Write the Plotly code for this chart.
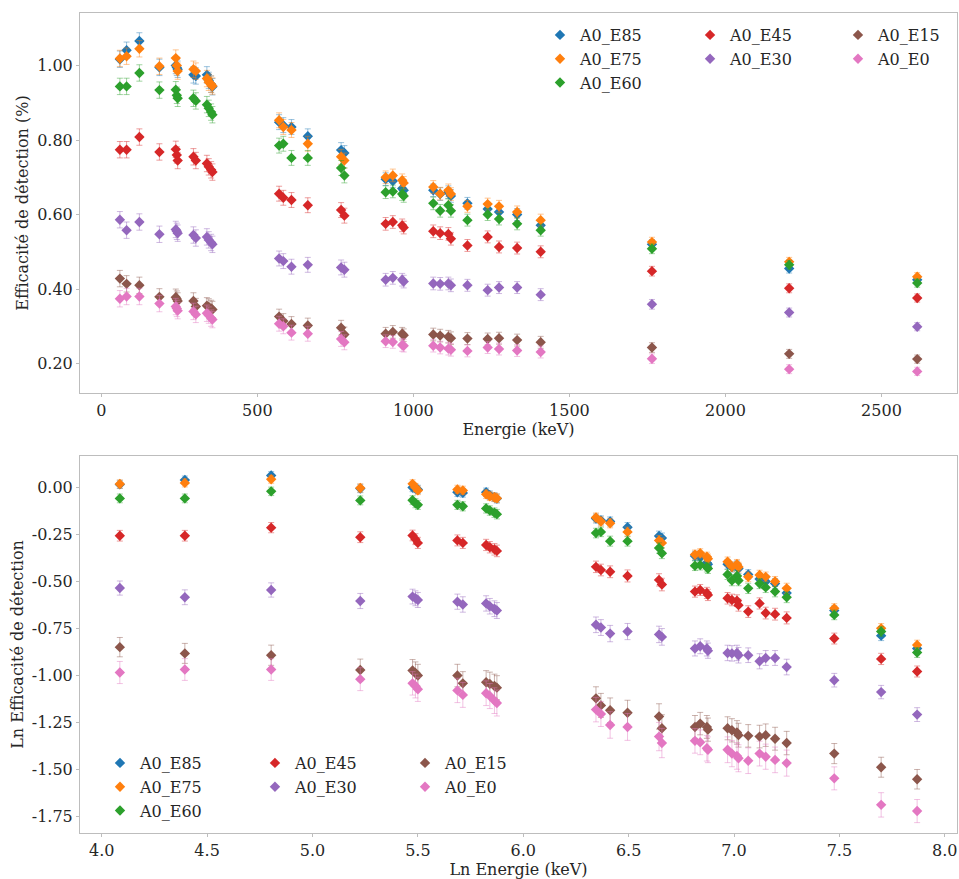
import numpy as np
import plotly.graph_objects as go

energies = [59.5, 81.0, 122.0, 186.2, 238.6, 241.9, 244.7, 295.2, 302.9, 338.3, 344.3, 351.9, 356.0,
            569.7, 583.2, 609.3, 661.7, 768.4, 778.9, 911.2, 934.1, 964.1, 969.0,
            1063.7, 1085.8, 1112.1, 1120.3, 1173.2, 1238.1, 1274.5, 1332.5, 1408.0,
            1764.5, 2204.2, 2614.5]

A0_E85 = [1.017, 1.041, 1.066, 0.995, 1.000, 0.995, 0.990, 0.975, 0.972, 0.975, 0.960, 0.950, 0.943,
          0.848, 0.840, 0.835, 0.810, 0.773, 0.765, 0.695, 0.690, 0.670, 0.665,
          0.665, 0.655, 0.660, 0.650, 0.630, 0.615, 0.607, 0.600, 0.571,
          0.520, 0.455, 0.425]
A0_E75 = [1.019, 1.025, 1.045, 0.998, 1.020, 1.000, 0.985, 0.990, 0.985, 0.965, 0.955, 0.950, 0.945,
          0.853, 0.835, 0.827, 0.790, 0.755, 0.745, 0.700, 0.705, 0.692, 0.685,
          0.674, 0.656, 0.665, 0.655, 0.622, 0.628, 0.622, 0.607, 0.585,
          0.526, 0.473, 0.433]
A0_E60 = [0.944, 0.944, 0.980, 0.934, 0.935, 0.920, 0.912, 0.912, 0.905, 0.895, 0.885, 0.875, 0.868,
          0.785, 0.790, 0.752, 0.752, 0.725, 0.705, 0.660, 0.662, 0.655, 0.650,
          0.630, 0.610, 0.625, 0.610, 0.585, 0.600, 0.588, 0.575, 0.558,
          0.508, 0.465, 0.416]
A0_E45 = [0.774, 0.774, 0.808, 0.768, 0.775, 0.760, 0.745, 0.755, 0.745, 0.737, 0.728, 0.720, 0.714,
          0.656, 0.645, 0.639, 0.625, 0.612, 0.597, 0.575, 0.580, 0.571, 0.565,
          0.555, 0.550, 0.548, 0.535, 0.517, 0.540, 0.513, 0.510, 0.500,
          0.448, 0.402, 0.376]
A0_E30 = [0.586, 0.558, 0.580, 0.547, 0.560, 0.555, 0.550, 0.545, 0.537, 0.540, 0.532, 0.525, 0.520,
          0.482, 0.475, 0.460, 0.465, 0.458, 0.452, 0.425, 0.430, 0.425, 0.420,
          0.415, 0.414, 0.415, 0.410, 0.410, 0.397, 0.404, 0.404, 0.385,
          0.359, 0.337, 0.299]
A0_E15 = [0.428, 0.414, 0.410, 0.379, 0.378, 0.373, 0.368, 0.368, 0.353, 0.355, 0.352, 0.348, 0.345,
          0.326, 0.314, 0.306, 0.302, 0.296, 0.278, 0.280, 0.285, 0.280, 0.276,
          0.278, 0.275, 0.272, 0.268, 0.267, 0.266, 0.268, 0.263, 0.257,
          0.243, 0.226, 0.212]
A0_E0 = [0.374, 0.380, 0.380, 0.361, 0.353, 0.348, 0.342, 0.340, 0.332, 0.335, 0.330, 0.322, 0.318,
         0.307, 0.300, 0.283, 0.280, 0.266, 0.257, 0.260, 0.258, 0.250, 0.248,
         0.248, 0.243, 0.240, 0.237, 0.234, 0.243, 0.239, 0.235, 0.231,
         0.213, 0.185, 0.179]

# absolute uncertainty (%) per energy line
uncert = [0.022] * 13 + [0.020] * 6 + [0.017] * 8 + [0.016] * 5 + [0.013, 0.012, 0.011]

series_names = ["A0_E85", "A0_E75", "A0_E60", "A0_E45", "A0_E30", "A0_E15", "A0_E0"]
series_values = [A0_E85, A0_E75, A0_E60, A0_E45, A0_E30, A0_E15, A0_E0]
colors = ["#1f77b4", "#ff7f0e", "#2ca02c", "#d62728", "#9467bd", "#8c564b", "#e377c2"]
legend_cols = ["legend", "legend", "legend", "legend2", "legend2", "legend3", "legend3"]
legend_cols_b = ["legend4", "legend4", "legend4", "legend5", "legend5", "legend6", "legend6"]

top_yticks = [0.2, 0.4, 0.6, 0.8, 1.0]
top_yticklabels = ["0.20", "0.40", "0.60", "0.80", "1.00"]
top_xticks = [0, 500, 1000, 1500, 2000, 2500]
bot_yticks = [0.0, -0.25, -0.5, -0.75, -1.0, -1.25, -1.5, -1.75]
bot_yticklabels = ["0.00", "-0.25", "-0.50", "-0.75", "-1.00", "-1.25", "-1.50", "-1.75"]
bot_xticks = [4.0, 4.5, 5.0, 5.5, 6.0, 6.5, 7.0, 7.5, 8.0]
bot_xticklabels = ["4.0", "4.5", "5.0", "5.5", "6.0", "6.5", "7.0", "7.5", "8.0"]

FONT = "DejaVu Serif"
TXT = "#262626"

def rgba(hexc, a):
    h = hexc.lstrip("#")
    return "rgba(%d,%d,%d,%.2f)" % (int(h[0:2], 16), int(h[2:4], 16), int(h[4:6], 16), a)

fig = go.Figure()
E = np.array(energies)
U = np.array(uncert)
for name, vals, col, lg, lgb in zip(series_names, series_values, colors, legend_cols, legend_cols_b):
    v = np.array(vals)
    fig.add_trace(go.Scatter(
        x=E, y=v, mode="markers", name=name, legend=lg,
        marker=dict(symbol="diamond", size=8, color=col),
        error_y=dict(type="data", array=U, visible=True, color=rgba(col, 0.45), thickness=1, width=3),
        xaxis="x", yaxis="y"))
    fig.add_trace(go.Scatter(
        x=np.log(E), y=np.log(v), mode="markers", name=name, legend=lgb,
        marker=dict(symbol="diamond", size=8, color=col),
        error_y=dict(type="data", array=U / v, visible=True, color=rgba(col, 0.45), thickness=1, width=3),
        xaxis="x2", yaxis="y2"))

axis_common = dict(showline=True, mirror=True, linecolor="#bdbdbd", linewidth=1, showgrid=False,
                   zeroline=False, ticks="outside", ticklen=3, tickcolor="#bdbdbd",
                   tickfont=dict(family=FONT, size=16, color=TXT))

lg_common = dict(bgcolor="rgba(0,0,0,0)", font=dict(family=FONT, size=16, color=TXT),
                 orientation="v", xanchor="left", yanchor="top", tracegroupgap=0)

title_font = dict(family=FONT, size=16, color=TXT)

fig.update_layout(
    width=959, height=879,
    margin=dict(l=80, r=2, t=13, b=46),
    plot_bgcolor="white", paper_bgcolor="white",
    font=dict(family=FONT, size=16, color=TXT),
    xaxis=dict(axis_common, domain=[0, 1], range=[-68.3, 2742], anchor="y",
               tickvals=top_xticks,
               title=dict(text="Energie (keV)", font=title_font, standoff=0)),
    yaxis=dict(axis_common, domain=[0.5366, 1.0], range=[0.121, 1.141], anchor="x",
               tickvals=top_yticks, ticktext=top_yticklabels,
               title=dict(text="Efficacité de détection (%)", font=title_font, standoff=4)),
    xaxis2=dict(axis_common, domain=[0, 1], range=[3.897, 8.058], anchor="y2",
                tickvals=bot_xticks, ticktext=bot_xticklabels,
                title=dict(text="Ln Energie (keV)", font=title_font, standoff=0)),
    yaxis2=dict(axis_common, domain=[0.0, 0.4598], range=[-1.837, 0.168], anchor="x2",
                tickvals=bot_yticks, ticktext=bot_yticklabels,
                title=dict(text="Ln Efficacité de détection", font=title_font, standoff=4)),
    legend=dict(lg_common, x=0.5245, y=0.9939),
    legend2=dict(lg_common, x=0.6956, y=0.9939),
    legend3=dict(lg_common, x=0.8643, y=0.9939),
    legend4=dict(lg_common, x=0.0228, y=0.1061),
    legend5=dict(lg_common, x=0.1995, y=0.1061),
    legend6=dict(lg_common, x=0.3706, y=0.1061),
)

fig.write_html(
    "out.html",
    config={"displayModeBar": False},
    post_script="document.body.style.margin='0';document.body.style.padding='0';"
                "document.documentElement.style.overflow='hidden';",
)
